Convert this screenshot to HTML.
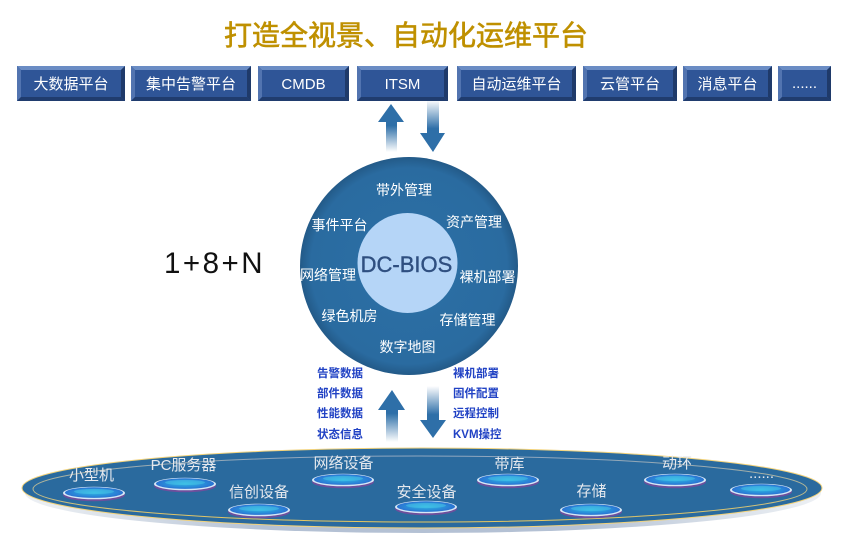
<!DOCTYPE html>
<html><head><meta charset="utf-8">
<style>
html,body{margin:0;padding:0;background:#fff;}
svg{display:block;}
text{font-family:"Liberation Sans","Noto Sans CJK SC",sans-serif;}
</style></head>
<body>
<svg width="850" height="552" viewBox="0 0 850 552" xmlns="http://www.w3.org/2000/svg">
<defs>
  <linearGradient id="upG" x1="0" y1="0" x2="0" y2="1">
    <stop offset="0" stop-color="#2e6fa8"/>
    <stop offset="0.45" stop-color="#2e6fa8"/>
    <stop offset="1" stop-color="#2e6fa8" stop-opacity="0"/>
  </linearGradient>
  <linearGradient id="downG" x1="0" y1="0" x2="0" y2="1">
    <stop offset="0" stop-color="#2e6fa8" stop-opacity="0"/>
    <stop offset="0.55" stop-color="#2e6fa8"/>
    <stop offset="1" stop-color="#2e6fa8"/>
  </linearGradient>
  <radialGradient id="circG" cx="0.5" cy="0.5" r="0.5">
    <stop offset="0" stop-color="#2c70a6"/>
    <stop offset="0.9" stop-color="#2a6ba0"/>
    <stop offset="1" stop-color="#235a88"/>
  </radialGradient>
  <linearGradient id="innerLine" x1="0" y1="0" x2="0" y2="1">
    <stop offset="0" stop-color="#8ea6bf"/>
    <stop offset="0.5" stop-color="#b8b890"/>
    <stop offset="1" stop-color="#e8c860"/>
  </linearGradient>
  <radialGradient id="discG" cx="0.5" cy="0.5" r="0.5">
    <stop offset="0" stop-color="#30b4e2"/>
    <stop offset="0.6" stop-color="#2a90da"/>
    <stop offset="1" stop-color="#2a72d2"/>
  </radialGradient>
  <linearGradient id="shadowG" x1="0" y1="0" x2="1" y2="0">
    <stop offset="0" stop-color="#c4cfdc" stop-opacity="0.3"/>
    <stop offset="0.3" stop-color="#b4c1d4"/>
    <stop offset="0.7" stop-color="#b4c1d4"/>
    <stop offset="1" stop-color="#c4cfdc" stop-opacity="0.3"/>
  </linearGradient>
  <g id="disc">
    <ellipse cx="0" cy="1.8" rx="31" ry="6.5" fill="#6e4f9c"/>
    <ellipse cx="0" cy="0" rx="31" ry="6.3" fill="#d6e8f6"/>
    <ellipse cx="0" cy="-0.4" rx="29" ry="5.3" fill="url(#discG)"/>
    <ellipse cx="0" cy="-1.5" rx="20" ry="2.6" fill="#4fd0e8" opacity="0.45"/>
  </g>
</defs>

<!-- Title -->
<text x="406" y="45" font-size="28" fill="#bf9000" stroke="#bf9000" stroke-width="0.6" text-anchor="middle" font-family="'Noto Sans CJK SC',sans-serif">打造全视景、自动化运维平台</text>

<!-- Buttons -->
<g font-size="15" fill="#fff" text-anchor="middle">
  <g>
    <rect x="17" y="66" width="108" height="35" fill="#2f5597"/>
    <polygon points="17,66 125,66 121,70 21,70" fill="#6a8cc4"/>
    <polygon points="17,66 21,70 21,97 17,101" fill="#5274b0"/>
    <polygon points="125,66 125,101 121,97 121,70" fill="#1f3a6a"/>
    <polygon points="17,101 125,101 121,97 21,97" fill="#203c6e"/>
    <text x="71" y="89">大数据平台</text>
  </g>
  <g>
    <rect x="131" y="66" width="120" height="35" fill="#2f5597"/>
    <polygon points="131,66 251,66 247,70 135,70" fill="#6a8cc4"/>
    <polygon points="131,66 135,70 135,97 131,101" fill="#5274b0"/>
    <polygon points="251,66 251,101 247,97 247,70" fill="#1f3a6a"/>
    <polygon points="131,101 251,101 247,97 135,97" fill="#203c6e"/>
    <text x="191" y="89">集中告警平台</text>
  </g>
  <g>
    <rect x="258" y="66" width="91" height="35" fill="#2f5597"/>
    <polygon points="258,66 349,66 345,70 262,70" fill="#6a8cc4"/>
    <polygon points="258,66 262,70 262,97 258,101" fill="#5274b0"/>
    <polygon points="349,66 349,101 345,97 345,70" fill="#1f3a6a"/>
    <polygon points="258,101 349,101 345,97 262,97" fill="#203c6e"/>
    <text x="303.5" y="89">CMDB</text>
  </g>
  <g>
    <rect x="357" y="66" width="91" height="35" fill="#2f5597"/>
    <polygon points="357,66 448,66 444,70 361,70" fill="#6a8cc4"/>
    <polygon points="357,66 361,70 361,97 357,101" fill="#5274b0"/>
    <polygon points="448,66 448,101 444,97 444,70" fill="#1f3a6a"/>
    <polygon points="357,101 448,101 444,97 361,97" fill="#203c6e"/>
    <text x="402.5" y="89">ITSM</text>
  </g>
  <g>
    <rect x="457" y="66" width="119" height="35" fill="#2f5597"/>
    <polygon points="457,66 576,66 572,70 461,70" fill="#6a8cc4"/>
    <polygon points="457,66 461,70 461,97 457,101" fill="#5274b0"/>
    <polygon points="576,66 576,101 572,97 572,70" fill="#1f3a6a"/>
    <polygon points="457,101 576,101 572,97 461,97" fill="#203c6e"/>
    <text x="516.5" y="89">自动运维平台</text>
  </g>
  <g>
    <rect x="583" y="66" width="94" height="35" fill="#2f5597"/>
    <polygon points="583,66 677,66 673,70 587,70" fill="#6a8cc4"/>
    <polygon points="583,66 587,70 587,97 583,101" fill="#5274b0"/>
    <polygon points="677,66 677,101 673,97 673,70" fill="#1f3a6a"/>
    <polygon points="583,101 677,101 673,97 587,97" fill="#203c6e"/>
    <text x="630" y="89">云管平台</text>
  </g>
  <g>
    <rect x="683" y="66" width="89" height="35" fill="#2f5597"/>
    <polygon points="683,66 772,66 768,70 687,70" fill="#6a8cc4"/>
    <polygon points="683,66 687,70 687,97 683,101" fill="#5274b0"/>
    <polygon points="772,66 772,101 768,97 768,70" fill="#1f3a6a"/>
    <polygon points="683,101 772,101 768,97 687,97" fill="#203c6e"/>
    <text x="727.5" y="89">消息平台</text>
  </g>
  <g>
    <rect x="778" y="66" width="53" height="35" fill="#2f5597"/>
    <polygon points="778,66 831,66 827,70 782,70" fill="#6a8cc4"/>
    <polygon points="778,66 782,70 782,97 778,101" fill="#5274b0"/>
    <polygon points="831,66 831,101 827,97 827,70" fill="#1f3a6a"/>
    <polygon points="778,101 831,101 827,97 782,97" fill="#203c6e"/>
    <text x="804.5" y="88">......</text>
  </g>
</g>

<!-- Top arrows -->
<polygon points="391,104 404,122 397,122 397,152 386,152 386,122 378,122" fill="url(#upG)"/>
<polygon points="427,100 439,100 439,133 445,133 433,152 420,133 427,133" fill="url(#downG)"/>

<!-- Main circle -->
<circle cx="409" cy="266" r="109" fill="url(#circG)"/>
<circle cx="407.5" cy="263" r="50" fill="#b5d5f7"/>
<text x="406.5" y="272" font-size="22" fill="#2f4f80" stroke="#2f4f80" stroke-width="0.4" text-anchor="middle">DC-BIOS</text>

<g font-size="14" fill="#fff" text-anchor="middle">
  <text x="404" y="195">带外管理</text>
  <text x="339.5" y="230">事件平台</text>
  <text x="474" y="227">资产管理</text>
  <text x="328" y="280">网络管理</text>
  <text x="487.5" y="282">裸机部署</text>
  <text x="349.5" y="321">绿色机房</text>
  <text x="467.5" y="325">存储管理</text>
  <text x="407.5" y="352">数字地图</text>
</g>

<!-- 1+8+N -->
<text x="164" y="273" font-size="29.5" fill="#111" letter-spacing="2.5">1+8+N</text>

<!-- Side labels -->
<g font-size="11.5" font-weight="bold" fill="#2142c4">
  <text x="317" y="377">告警数据</text>
  <text x="317" y="397">部件数据</text>
  <text x="317" y="417">性能数据</text>
  <text x="317" y="438">状态信息</text>
  <text x="453" y="377">裸机部署</text>
  <text x="453" y="397">固件配置</text>
  <text x="453" y="417">远程控制</text>
  <text x="453" y="438">KVM操控</text>
</g>

<!-- Bottom arrows -->
<polygon points="392,390 405,410 398,410 398,442 386,442 386,410 378,410" fill="url(#upG)"/>
<polygon points="427,386 439,386 439,420 446,420 433,438 420,420 427,420" fill="url(#downG)"/>

<!-- Platform -->
<ellipse cx="423" cy="493" rx="398" ry="40" fill="url(#shadowG)"/>
<ellipse cx="422" cy="488" rx="400" ry="40" fill="#2a6a9e" stroke="#f2d27a" stroke-width="1"/>
<ellipse cx="420" cy="489" rx="387" ry="33" fill="none" stroke="url(#innerLine)" stroke-width="1"/>

<!-- Discs -->
<use href="#disc" x="94" y="493"/>
<use href="#disc" x="185" y="484"/>
<use href="#disc" x="259" y="510"/>
<use href="#disc" x="343" y="480"/>
<use href="#disc" x="426" y="507"/>
<use href="#disc" x="508" y="480"/>
<use href="#disc" x="591" y="510"/>
<use href="#disc" x="675" y="480"/>
<use href="#disc" x="761" y="490"/>

<!-- Platform labels -->
<g font-size="15" fill="#e6e9ee" text-anchor="middle">
  <text x="91.5" y="480">小型机</text>
  <text x="183.5" y="470">PC服务器</text>
  <text x="259" y="497">信创设备</text>
  <text x="343.5" y="468">网络设备</text>
  <text x="426.5" y="497">安全设备</text>
  <text x="509.5" y="469">带库</text>
  <text x="591.5" y="496">存储</text>
  <text x="677" y="468">动环</text>
  <text x="761.5" y="478">......</text>
</g>
</svg>
</body></html>
